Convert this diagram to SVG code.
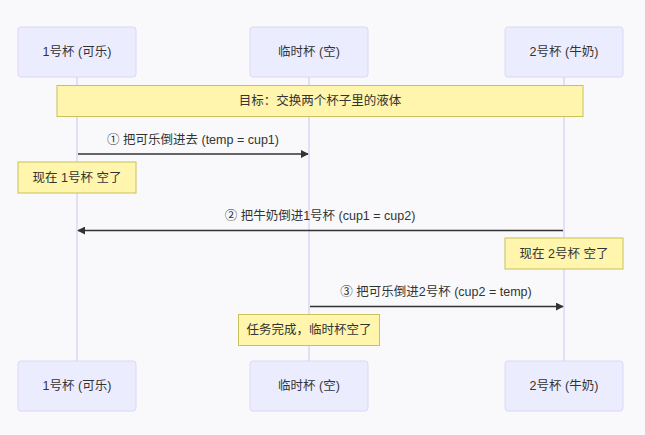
<svg xmlns="http://www.w3.org/2000/svg" width="645" height="435" viewBox="0 0 645 435">
<style>
text{font-family:"Liberation Sans","Noto Sans CJK SC",sans-serif;font-size:12.5px;fill:#333;text-anchor:middle;dominant-baseline:central}
.actor{fill:#ececff;stroke:#ddd6f5;stroke-width:1}
.life{stroke:#ddd6f5;stroke-width:1.5}
.note{fill:#fff5ad;stroke:#c8c25a;stroke-width:1}
.msg{stroke:#333;stroke-width:1.5;fill:none;marker-end:url(#arr)}
</style>
<defs>
<marker id="arr" viewBox="0 0 10 10" refX="9" refY="5" markerWidth="8" markerHeight="8" markerUnits="userSpaceOnUse" orient="auto">
<path d="M0,0 L10,5 L0,10 z" fill="#333"/>
</marker>
</defs>
<rect width="645" height="435" fill="#f9f9fb"/>
<g id="lifelines">
<line class="life" x1="77" y1="77" x2="77" y2="361"/>
<line class="life" x1="309" y1="77" x2="309" y2="361"/>
<line class="life" x1="564" y1="77" x2="564" y2="361"/>
</g>
<g id="actor-cup1-top"><rect class="actor" x="18" y="27" width="118" height="50" rx="3"/><text x="77" y="52">1号杯 (可乐)</text></g>
<g id="actor-temp-top"><rect class="actor" x="250" y="27" width="118" height="50" rx="3"/><text x="309" y="52">临时杯 (空)</text></g>
<g id="actor-cup2-top"><rect class="actor" x="505" y="27" width="118" height="50" rx="3"/><text x="564" y="52">2号杯 (牛奶)</text></g>
<g id="note-goal"><rect class="note" x="57" y="85.5" width="526" height="31"/><text x="320" y="101">目标：交换两个杯子里的液体</text></g>
<g id="note-1"><rect class="note" x="18" y="162" width="118" height="31"/><text x="77" y="177.5">现在 1号杯 空了</text></g>
<g id="note-2"><rect class="note" x="505" y="238" width="118" height="31"/><text x="564" y="253.5">现在 2号杯 空了</text></g>
<g id="note-3"><rect class="note" x="238.5" y="314.5" width="141" height="31"/><text x="309" y="330">任务完成，临时杯空了</text></g>
<g id="connectors">
<line class="msg" x1="78" y1="154" x2="308" y2="154"/>
<text x="193" y="140">① 把可乐倒进去 (temp = cup1)</text>
<line class="msg" x1="563" y1="230.5" x2="78" y2="230.5"/>
<text x="320" y="216">② 把牛奶倒进1号杯 (cup1 = cup2)</text>
<line class="msg" x1="310" y1="306.5" x2="563" y2="306.5"/>
<text x="436" y="292">③ 把可乐倒进2号杯 (cup2 = temp)</text>
</g>
<g id="actor-cup1-bottom"><rect class="actor" x="18" y="361" width="118" height="50" rx="3"/><text x="77" y="386">1号杯 (可乐)</text></g>
<g id="actor-temp-bottom"><rect class="actor" x="250" y="361" width="118" height="50" rx="3"/><text x="309" y="386">临时杯 (空)</text></g>
<g id="actor-cup2-bottom"><rect class="actor" x="505" y="361" width="118" height="50" rx="3"/><text x="564" y="386">2号杯 (牛奶)</text></g>
</svg>
